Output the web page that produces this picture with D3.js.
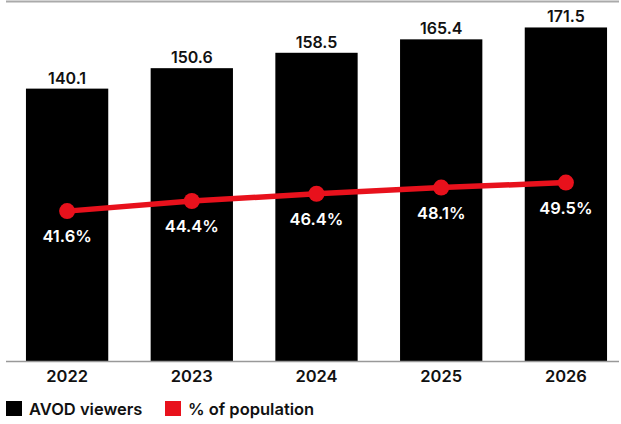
<!DOCTYPE html>
<html>
<head>
<meta charset="utf-8">
<script src="https://cdn.jsdelivr.net/npm/d3@7"></script>
<style>
  body { margin: 0; background: #fff; }
  svg text { font-family: Inter, "Liberation Sans", sans-serif; font-weight: 600; }
</style>
</head>
<body>
<div id="chart"></div>
<script>
// data
var years = ["2022", "2023", "2024", "2025", "2026"];
var viewers = [140.1, 150.6, 158.5, 165.4, 171.5];       // AVOD viewers, millions
var share = [41.6, 44.4, 46.4, 48.1, 49.5];               // % of population
var legendLabels = ["AVOD viewers", "% of population"];

var W = 621, H = 424;
var baseY = 361.5;

var svg = d3.select('#chart').append('svg')
    .attr('width', W)
    .attr('height', H);

// scales
var x = d3.scaleBand().domain(years).range([6, 627]).paddingInner(0.34).paddingOuter(0.16);
var yBar = d3.scaleLinear().domain([0, 185.6]).range([baseY, 0]);
var yPct = d3.scaleLinear().domain([0, 100]).range([baseY, 0]);

// top rule
svg.append('line')
    .attr('x1', 6).attr('x2', 619)
    .attr('y1', 1.5).attr('y2', 1.5)
    .attr('stroke', '#aaa').attr('stroke-width', 2);

// bars
svg.append('g').selectAll('rect')
    .data(viewers)
    .enter()
    .append('rect')
    .attr('x', function(d, i) { return x(years[i]); })
    .attr('y', function(d) { return yBar(d); })
    .attr('width', x.bandwidth())
    .attr('height', function(d) { return baseY - yBar(d); })
    .attr('fill', '#000');

// bar value labels
svg.append('g').selectAll('text')
    .data(viewers)
    .enter()
    .append('text')
    .attr('x', function(d, i) { return x(years[i]) + x.bandwidth() / 2; })
    .attr('y', function(d) { return yBar(d) - 5; })
    .attr('text-anchor', 'middle')
    .attr('font-size', 16)
    .attr('fill', '#111')
    .text(function(d) { return d.toFixed(1); });

// baseline (x axis)
var xAxis = d3.axisBottom(x).tickSize(0).tickPadding(9);
var gx = svg.append('g')
    .attr('transform', 'translate(0,' + baseY + ')')
    .call(xAxis);
gx.select('.domain').remove();
gx.append('line')
    .attr('x1', 6).attr('x2', 619)
    .attr('y1', 0).attr('y2', 0)
    .attr('stroke', '#999').attr('stroke-width', 1.5);
gx.selectAll('.tick text')
    .attr('font-size', 16.5)
    .attr('fill', '#111')
    .attr('font-family', 'Inter, "Liberation Sans", sans-serif')
    .attr('font-weight', 600);

// line for % of population
var line = d3.line()
    .x(function(d, i) { return x(years[i]) + x.bandwidth() / 2; })
    .y(function(d) { return yPct(d); });

svg.append('path')
    .datum(share)
    .attr('fill', 'none')
    .attr('stroke', '#e8111c')
    .attr('stroke-width', 5.5)
    .attr('stroke-linejoin', 'round')
    .attr('d', line);

svg.append('g').selectAll('circle')
    .data(share)
    .enter()
    .append('circle')
    .attr('cx', function(d, i) { return x(years[i]) + x.bandwidth() / 2; })
    .attr('cy', function(d) { return yPct(d); })
    .attr('r', 8)
    .attr('fill', '#e8111c');

svg.append('g').selectAll('text')
    .data(share)
    .enter()
    .append('text')
    .attr('x', function(d, i) { return x(years[i]) + x.bandwidth() / 2; })
    .attr('y', function(d) { return yPct(d) + 31; })
    .attr('text-anchor', 'middle')
    .attr('font-size', 16.5)
    .attr('fill', '#fff')
    .text(function(d) { return d.toFixed(1) + '%'; });

// legend
var legendColors = ['#000', '#e8111c'];
var legendX = [6, 165];
var lg = svg.append('g').selectAll('g')
    .data(legendLabels)
    .enter()
    .append('g')
    .attr('transform', function(d, i) { return 'translate(' + legendX[i] + ',401)'; });
lg.append('rect')
    .attr('width', 16).attr('height', 15)
    .attr('fill', function(d, i) { return legendColors[i]; });
lg.append('text')
    .attr('x', 23)
    .attr('y', 14)
    .attr('font-size', 16.5)
    .attr('fill', '#111')
    .text(function(d) { return d; });
</script>
</body>
</html>
